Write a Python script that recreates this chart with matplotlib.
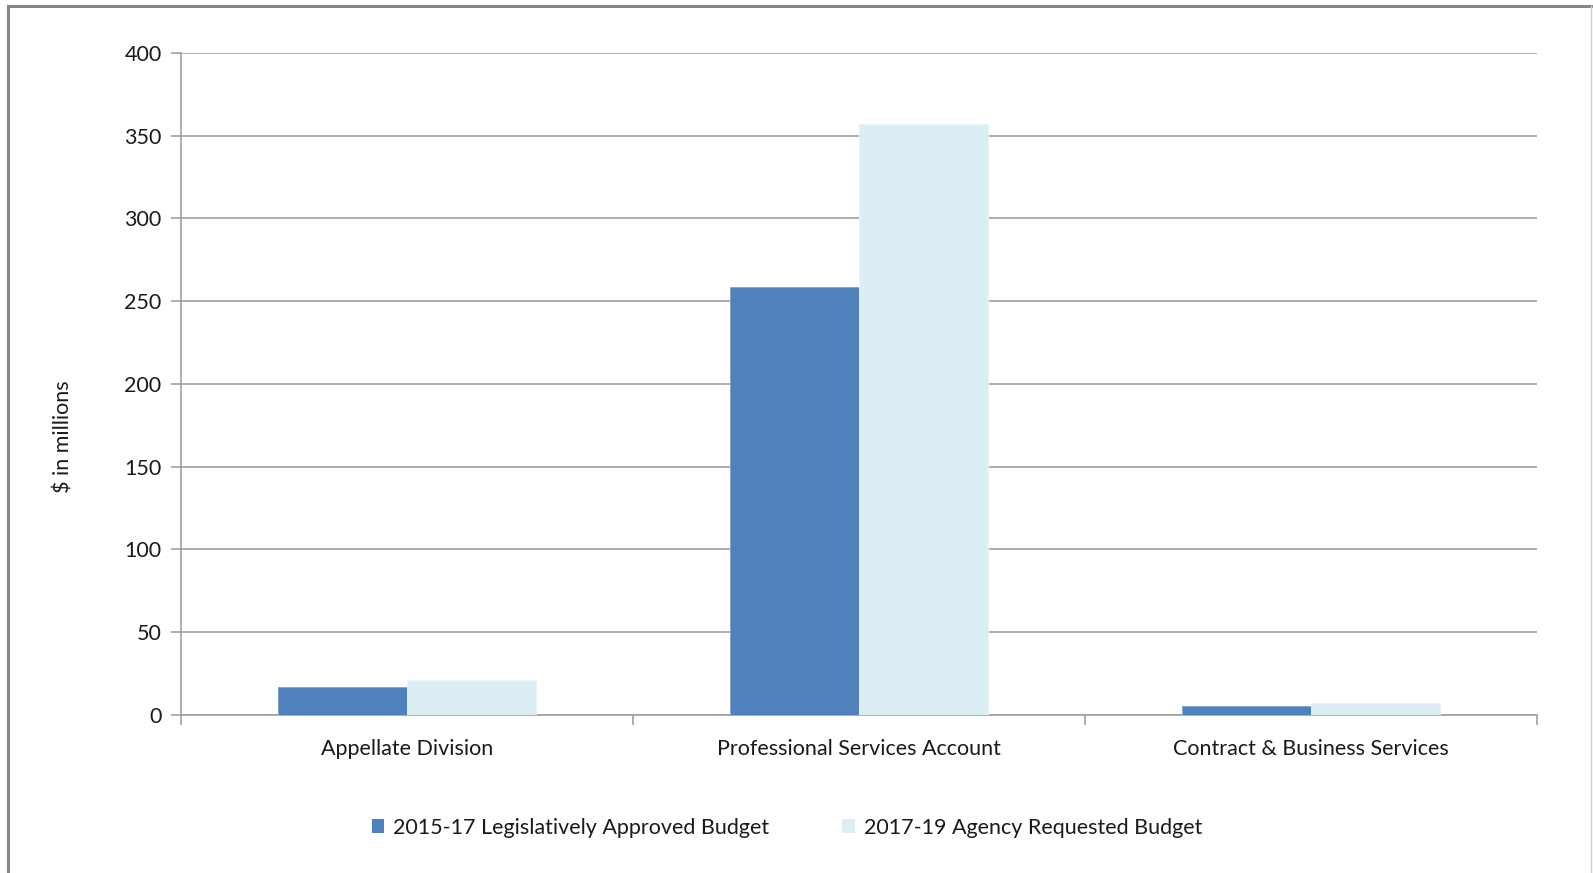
import matplotlib
matplotlib.use("Agg")
import matplotlib.pyplot as plt
import numpy as np
from matplotlib.lines import Line2D
from matplotlib.patches import Patch

categories = ["Appellate Division", "Professional Services Account", "Contract & Business Services"]
series_names = ["2015-17 Legislatively Approved Budget", "2017-19 Agency Requested Budget"]
approved_1517 = [17.1, 258.4, 5.4]
requested_1719 = [21.1, 356.7, 7.2]
y_ticks = [0, 50, 100, 150, 200, 250, 300, 350, 400]

BLUE = "#4F81BD"
LIGHT = "#DBEEF4"
GRID = "#A0A0A0"
TEXT = "#1A1A1A"
FS = 15.5

plt.rcParams["font.family"] = ["Lato", "DejaVu Sans"]

fig = plt.figure(figsize=(15.93, 8.73), dpi=100)
ax = fig.add_axes([0.1136, 0.1810, 0.8513, 0.7586])

x = np.arange(len(categories))
w = 0.285
ax.bar(x - w / 2, approved_1517, width=w, color=BLUE, edgecolor="#7FA3D1", linewidth=0.6, zorder=3)
ax.bar(x + w / 2, requested_1719, width=w, color=LIGHT, edgecolor="#EAF4F8", linewidth=0.6, zorder=3)

ax.set_xlim(-0.5, len(categories) - 0.5)
ax.set_ylim(0, 400)
ax.set_yticks(y_ticks)
ax.set_yticklabels([str(v) for v in y_ticks], fontsize=FS, color=TEXT)
ax.yaxis.grid(True, color=GRID, linewidth=1.2, zorder=0)
ax.set_axisbelow(True)

# category labels sit between the boundary ticks
ax.set_xticks(x)
ax.set_xticklabels(categories, fontsize=FS, color=TEXT)
ax.tick_params(axis="x", length=0, pad=17)
ax.set_xticks(np.arange(-0.5, len(categories)), minor=True)
ax.tick_params(axis="x", which="minor", length=7, color=GRID, width=1.2, direction="out")
ax.tick_params(axis="y", length=7, color=GRID, width=1.2, direction="out", pad=7)

for side in ("top", "right"):
    ax.spines[side].set_visible(False)
for side in ("left", "bottom"):
    ax.spines[side].set_color(GRID)
    ax.spines[side].set_linewidth(1.2)

ax.set_ylabel("$ in millions", fontsize=FS, color=TEXT)
ax.yaxis.set_label_coords(-0.079, 0.42)

handles = [Patch(facecolor=BLUE, edgecolor="none"), Patch(facecolor=LIGHT, edgecolor="none")]
fig.legend(handles, series_names, loc="center", bbox_to_anchor=(0.494, 0.052), ncol=2,
           frameon=False, fontsize=FS, handlelength=0.6, handleheight=0.6,
           handletextpad=0.4, columnspacing=3.4, labelcolor=TEXT)

# outer chart frame
fig.add_artist(Line2D([0.005, 0.005], [0, 0.993], transform=fig.transFigure, color="#878787", linewidth=2.2))
fig.add_artist(Line2D([0.005, 0.9985], [0.993, 0.993], transform=fig.transFigure, color="#878787", linewidth=2.2))
fig.add_artist(Line2D([0.9985, 0.9985], [0, 0.993], transform=fig.transFigure, color="#D0D0D0", linewidth=1.0))

fig.savefig("out.png", dpi=100)
